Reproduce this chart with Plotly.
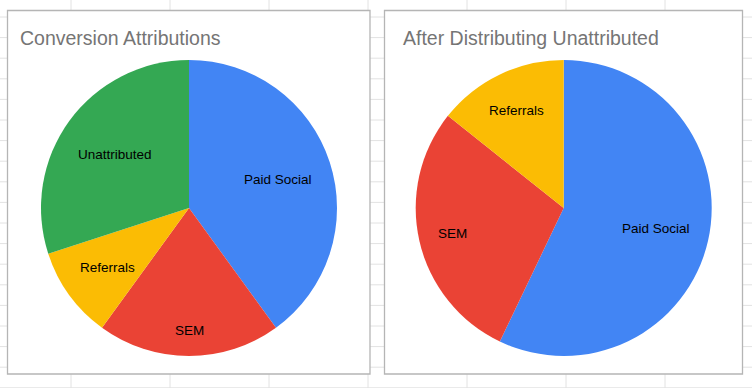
import math
import plotly.graph_objects as go

# ---- data ----
channels = ["Paid Social", "SEM", "Referrals", "Unattributed"]
conversions = [40, 20, 10, 30]
after_channels = ["Paid Social", "SEM", "Referrals"]
after_values = [57.1, 28.6, 14.3]
titles = ["Conversion Attributions", "After Distributing Unattributed"]

# ---- style ----
W, H = 752, 388
color_map = {"Paid Social": "#4285F4", "SEM": "#EA4335",
             "Referrals": "#FBBC04", "Unattributed": "#34A853"}
FONT = "Arial, Liberation Sans, Helvetica, sans-serif"
label_radius = [[0.63, 0.83, 0.68, 0.62], [0.64, 0.77, 0.73]]  # fraction of pie radius
pie_geom = [(189, 208, 148), (563.7, 208, 148)]  # centre x, centre y, radius (px)
title_x = [18, 401]


def px_dom(cx, cy, r):
    return dict(x=[(cx - r) / W, (cx + r) / W],
                y=[(H - cy - r) / H, (H - cy + r) / H])


fig = go.Figure()
annotations = []
pies = [(channels, conversions), (after_channels, after_values)]
for i, (labels, values) in enumerate(pies):
    cx, cy, r = pie_geom[i]
    fig.add_trace(go.Pie(
        labels=labels, values=values, sort=False, direction="clockwise",
        rotation=0, domain=px_dom(cx, cy, r),
        marker=dict(colors=[color_map[l] for l in labels], line=dict(width=0)),
        textinfo="none",
        hoverinfo="label+value+percent", showlegend=False,
    ))
    total = sum(values)
    cum = 0
    for lab, v, rf in zip(labels, values, label_radius[i]):
        theta = 2 * math.pi * (cum + v / 2) / total
        cum += v
        lx = cx + rf * r * math.sin(theta)
        ly = cy - rf * r * math.cos(theta)
        annotations.append(dict(text=lab, xref="paper", yref="paper",
                                x=lx / W, y=1 - ly / H,
                                xanchor="center", yanchor="middle", showarrow=False,
                                font=dict(family=FONT, size=13.5, color="#000000")))

shapes = []
grid_color = "#e2e2e2"
for x in [71, 170, 269, 368, 467, 566, 665]:
    shapes.append(dict(type="line", xref="paper", yref="paper",
                       x0=x / W, x1=x / W, y0=0, y1=1,
                       line=dict(color=grid_color, width=1), layer="below"))
for k in range(19):
    y = 17 + 20.6 * k
    shapes.append(dict(type="line", xref="paper", yref="paper",
                       x0=0, x1=1, y0=1 - y / H, y1=1 - y / H,
                       line=dict(color=grid_color, width=1), layer="below"))
for (x0, x1) in [(7.5, 370), (384.5, 742.5)]:
    shapes.append(dict(type="rect", xref="paper", yref="paper",
                       x0=x0 / W, x1=x1 / W, y0=1 - 374 / H, y1=1 - 10.5 / H,
                       fillcolor="white", line=dict(color="#b5b5b5", width=1.3),
                       layer="below"))

for t, x in zip(titles, title_x):
    annotations.append(dict(text=t, xref="paper", yref="paper",
                            x=x / W, y=1 - 38 / H, xanchor="left", yanchor="middle",
                            showarrow=False,
                            font=dict(family=FONT, size=19.5, color="#757575")))

fig.update_layout(width=W, height=H, margin=dict(l=0, r=0, t=0, b=0),
                  paper_bgcolor="white", plot_bgcolor="white",
                  shapes=shapes, annotations=annotations)
fig.write_html("out.html", config={"displayModeBar": False},
               post_script="document.body.style.margin='0';")
